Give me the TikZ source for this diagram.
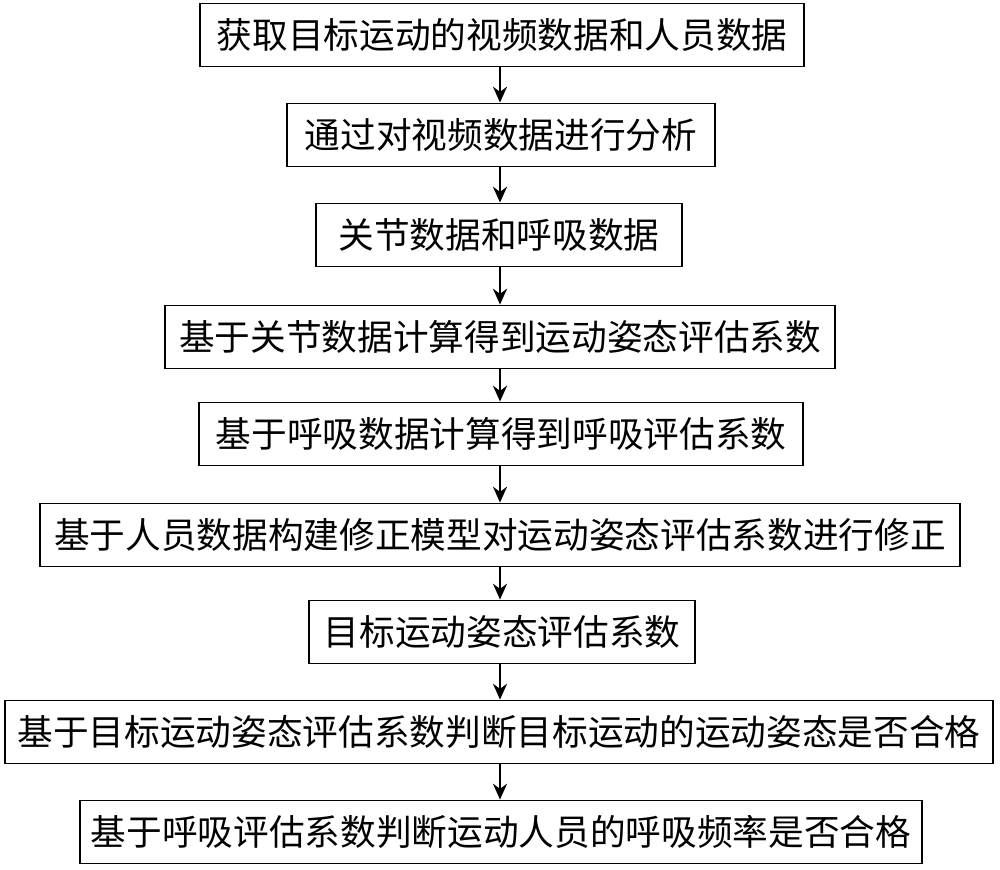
\documentclass[tikz,border=0pt]{standalone}
\usepackage{fontspec}
\setmainfont{Noto Sans CJK SC}
\usetikzlibrary{arrows.meta}
\begin{document}
\begin{tikzpicture}[x=0.02cm,y=-0.02cm,
  box/.style={draw,line width=0.8pt,inner sep=0pt,font=\fontsize{20.3}{24}\selectfont,minimum height=1.27cm},
  arr/.style={-{Stealth[length=9pt,width=8pt]},line width=1.3pt}]
\useasboundingbox (0,0) rectangle (1000,869);
\node[box,minimum width=12.08cm] (b1) at (502,35) {获取目标运动的视频数据和人员数据};
\node[box,minimum width=8.56cm] (b2) at (501,135) {通过对视频数据进行分析};
\node[box,minimum width=7.32cm] (b3) at (499,235) {关节数据和呼吸数据};
\node[box,minimum width=13.4cm] (b4) at (500,337) {基于关节数据计算得到运动姿态评估系数};
\node[box,minimum width=12.08cm] (b5) at (501,434) {基于呼吸数据计算得到呼吸评估系数};
\node[box,minimum width=18.4cm] (b6) at (500,535) {基于人员数据构建修正模型对运动姿态评估系数进行修正};
\node[box,minimum width=7.72cm] (b7) at (502,632) {目标运动姿态评估系数};
\node[box,minimum width=19.76cm] (b8) at (499,732) {基于目标运动姿态评估系数判断目标运动的运动姿态是否合格};
\node[box,minimum width=16.84cm] (b9) at (501,832) {基于呼吸评估系数判断运动人员的呼吸频率是否合格};
\foreach \a/\b in {b1/b2,b2/b3,b3/b4,b4/b5,b5/b6,b6/b7,b7/b8,b8/b9}
  \draw[arr] (\a.south -| b4.north) -- (\b.north -| b4.north);
\end{tikzpicture}
\end{document}
